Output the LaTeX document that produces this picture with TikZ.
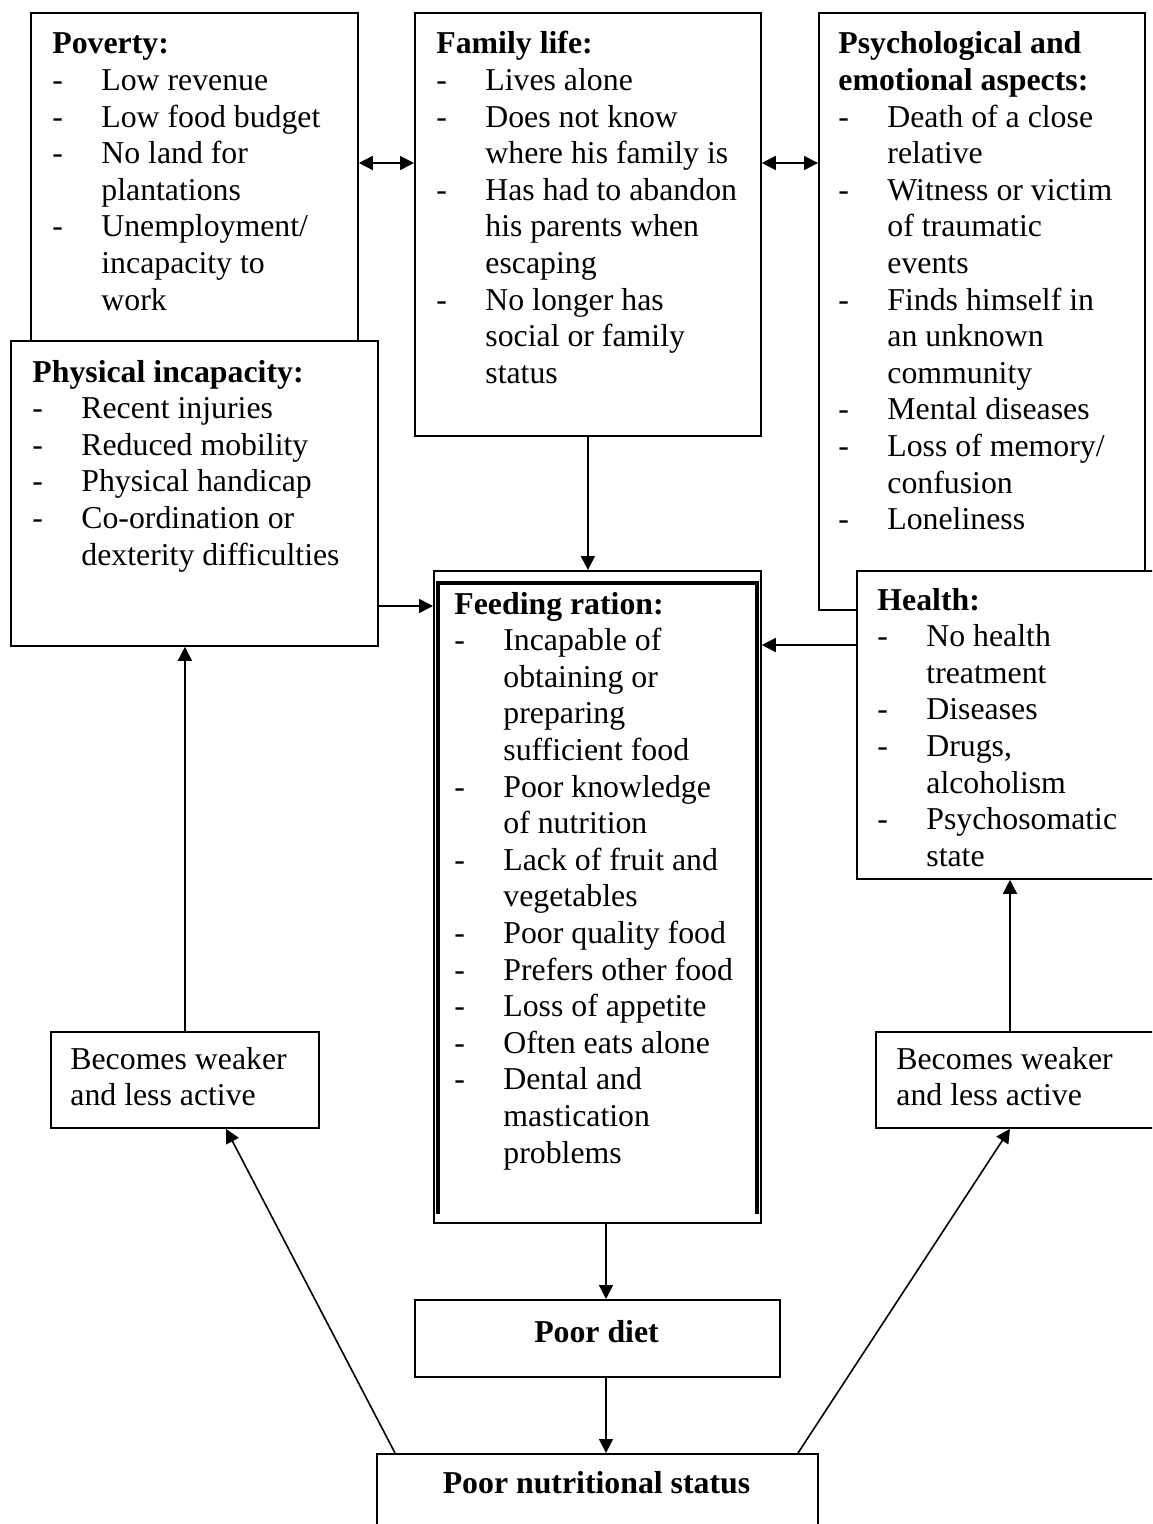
\documentclass[tikz,border=0pt]{standalone}
\usepackage{fontspec}
\setmainfont{Liberation Serif}
\usetikzlibrary{arrows.meta,calc}

% bullet list with a bold heading: first column holds the dash
\newcommand\lst[1]{\begin{tabular}[t]{@{}p{24.5pt}@{}l@{}}#1\end{tabular}}
\newcommand\ttl[1]{\multicolumn{2}{@{}l@{}}{\textbf{#1}}}
% framed box given by its corners (x1,y1) and (x2,y2)
\newcommand\boxnode[5]{%
  \node[box, anchor=north west,
        minimum width={(#4-#2)*0.5pt}, minimum height={(#5-#3)*0.5pt}]
        (#1) at (#2,#3) {};}

\begin{document}
\begin{tikzpicture}[x=0.5pt,y=-0.5pt,
  box/.style={draw, line width=0.9pt, fill=white, inner sep=0pt, rectangle},
  txt/.style={anchor=base west, inner sep=0pt, font={\fontsize{15.9pt}{18.3pt}\selectfont}},
  tip/.style={Triangle[length=7pt,width=7pt]},
  arr/.style={line width=0.8pt, -{Triangle[length=7pt,width=7pt]}},
  darr/.style={line width=0.8pt, {Triangle[length=7pt,width=7pt]}-{Triangle[length=7pt,width=7pt]}}]

\useasboundingbox (0,0) rectangle (1152,1524);
\clip (0,0) rectangle (1152,1524);

% boxes (later ones overlap earlier ones)
\boxnode{pov}{30}{12}{357}{420}
\boxnode{phys}{10}{340}{377}{645}
\boxnode{fam}{414}{12}{760}{435}
\boxnode{psy}{818}{12}{1144}{609}
\boxnode{hlth}{856}{570}{1170}{878}
\boxnode{feed}{433}{570}{760}{1222}
\boxnode{diet}{414}{1299}{779}{1376}
\boxnode{nutr}{376}{1453}{817}{1560}
\boxnode{wl}{50}{1031}{318}{1127}
\boxnode{wr}{875}{1031}{1170}{1127}

% thick inner frame of the feeding ration box
\draw[line width=1.7pt]
  ($(feed.south west)+(5,-10)$) -- ($(feed.north west)+(5,13)$)
  -- ($(feed.north east)+(-5,13)$) -- ($(feed.south east)+(-5,-10)$);

% texts
\node[txt] (povT) at (52,54) {\lst{%
  \ttl{Poverty:}\\
  - & Low revenue\\
  - & Low food budget\\
  - & No land for\\
    & plantations\\
  - & Unemployment/\\
    & incapacity to\\
    & work}};

\node[txt] (famT) at (436,54) {\lst{%
  \ttl{Family life:}\\
  - & Lives alone\\
  - & Does not know\\
    & where his family is\\
  - & Has had to abandon\\
    & his parents when\\
    & escaping\\
  - & No longer has\\
    & social or family\\
    & status}};

\node[txt] (psyT) at (838,54) {\lst{%
  \ttl{Psychological and}\\
  \ttl{emotional aspects:}\\
  - & Death of a close\\
    & relative\\
  - & Witness or victim\\
    & of traumatic\\
    & events\\
  - & Finds himself in\\
    & an unknown\\
    & community\\
  - & Mental diseases\\
  - & Loss of memory/\\
    & confusion\\
  - & Loneliness}};

\node[txt] (physT) at (32,382) {\lst{%
  \ttl{Physical incapacity:}\\
  - & Recent injuries\\
  - & Reduced mobility\\
  - & Physical handicap\\
  - & Co-ordination or\\
    & dexterity difficulties}};

\node[txt] (feedT) at (454,614) {\lst{%
  \ttl{Feeding ration:}\\
  - & Incapable of\\
    & obtaining or\\
    & preparing\\
    & sufficient food\\
  - & Poor knowledge\\
    & of nutrition\\
  - & Lack of fruit and\\
    & vegetables\\
  - & Poor quality food\\
  - & Prefers other food\\
  - & Loss of appetite\\
  - & Often eats alone\\
  - & Dental and\\
    & mastication\\
    & problems}};

\node[txt] (hlthT) at (877,610) {\lst{%
  \ttl{Health:}\\
  - & No health\\
    & treatment\\
  - & Diseases\\
  - & Drugs,\\
    & alcoholism\\
  - & Psychosomatic\\
    & state}};

\node[txt] (wlT) at (70,1069) {\begin{tabular}[t]{@{}l@{}}Becomes weaker\\ and less active\end{tabular}};
\node[txt] (wrT) at (896,1069) {\begin{tabular}[t]{@{}l@{}}Becomes weaker\\ and less active\end{tabular}};
\node[txt, anchor=base] (dietT) at (596.5,1342) {\textbf{Poor diet}};
\node[txt, anchor=base] (nutrT) at (596.5,1493) {\textbf{Poor nutritional status}};

% connector guides
\coordinate (yA) at (0,163);
\coordinate (yB) at (0,606);
\coordinate (yC) at (0,645);
\coordinate (xD) at (606,0);
\coordinate (xE) at (1010,0);
\coordinate (xF) at (395,0);
\coordinate (xG) at (226,0);
\coordinate (xH) at (798,0);

% connectors
\draw[darr] (pov.east |- yA) -- (fam.west |- yA);
\draw[darr] (fam.east |- yA) -- (psy.west |- yA);
\draw[arr] (fam.south) -- (fam.south |- feed.north);
\draw[arr] (phys.east |- yB) -- (feed.west |- yB);
\draw[arr] (hlth.west |- yC) -- (feed.east |- yC);
\draw[arr] (feed.south -| xD) -- (diet.north -| xD);
\draw[arr] (diet.south -| xD) -- (nutr.north -| xD);
\draw[arr] (nutr.north -| xF) -- (wl.south -| xG);
\draw[arr] (nutr.north -| xH) -- (wr.south -| xE);
\draw[arr] (wl.north) -- (wl.north |- phys.south);
\draw[arr] (wr.north -| xE) -- (hlth.south -| xE);

\end{tikzpicture}
\end{document}
